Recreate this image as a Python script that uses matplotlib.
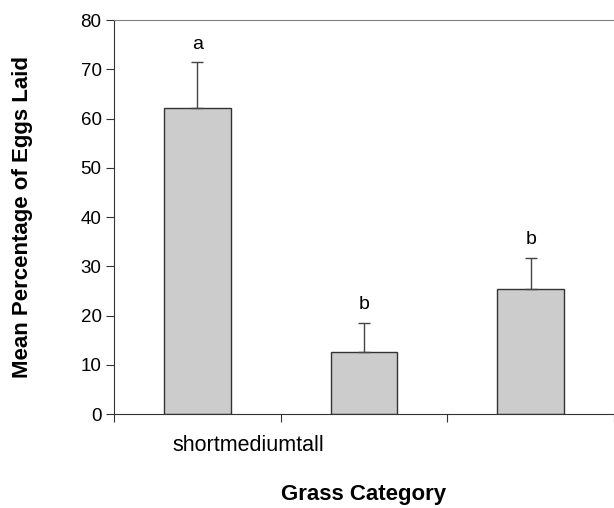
import matplotlib
matplotlib.use("Agg")
import matplotlib.pyplot as plt
import numpy as np

plt.rcParams['font.family'] = ['Liberation Sans', 'DejaVu Sans']

categorias = ["short", "medium", "tall"]
medias = [62.1, 12.6, 25.3]
errores = [9.3, 5.9, 6.4]
letras = ["a", "b", "b"]

fig = plt.figure(figsize=(6.14, 5.08), dpi=100)
ax = fig.add_axes([0.1857, 0.185, 0.8143, 0.7756])

x = np.arange(len(categorias)) + 0.5
ax.bar(x, medias, width=0.4, color='#cccccc', edgecolor='#333333', linewidth=1.0,
       yerr=[[0] * len(errores), errores], capsize=4,
       error_kw=dict(ecolor='#444444', elinewidth=1.0, capthick=1.0))

for xi, m, e, l in zip(x, medias, errores, letras):
    ax.text(xi, m + e + 2.0, l, ha='center', va='bottom', fontsize=14)

ax.set_xlim(0, 3)
ax.set_ylim(0, 80)
ax.set_yticks(range(0, 81, 10))
ax.set_xticks([0, 1, 2, 3])
ax.set_xticklabels([])
ax.tick_params(axis='y', labelsize=13.5, length=6, pad=3, direction='out', color='#333333')
ax.tick_params(axis='x', length=6, direction='out', color='#333333')

# las etiquetas de categoria quedaron pegadas en el original
ax.text(0.804, -0.079, "".join(categorias), transform=ax.get_xaxis_transform(),
        ha='center', va='center', fontsize=15.5)

ax.spines['right'].set_visible(False)
ax.spines['top'].set_color('#808080')
ax.spines['left'].set_color('#333333')
ax.spines['bottom'].set_color('#333333')

ax.set_xlabel("Grass Category", fontsize=16, fontweight='bold')
ax.set_ylabel("Mean Percentage of Eggs Laid", fontsize=16, fontweight='bold')
ax.xaxis.set_label_coords(0.5, -0.178)
ax.yaxis.set_label_coords(-0.163, 0.5)

fig.savefig("out.png", dpi=100)
